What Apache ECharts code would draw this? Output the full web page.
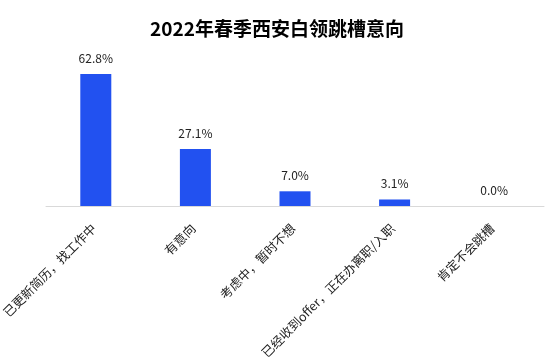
<!DOCTYPE html>
<html><head><meta charset="utf-8">
<script src="https://cdn.jsdelivr.net/npm/echarts@6/dist/echarts.min.js"></script>
<style>html,body{margin:0;padding:0;background:#fff}#c{width:554px;height:363px}</style>
</head><body><div id="c"></div>
<script>
const categories = ['已更新简历，找工作中','有意向','考虑中，暂时不想','已经收到offer，正在办离职/入职','肯定不会跳槽'];
const values = [62.8, 27.1, 7.0, 3.1, 0.0];
const chart = echarts.init(document.getElementById('c'));
chart.setOption({
  animation:false,
  title:{text:'2022年春季西安白领跳槽意向',left:'center',top:14,textStyle:{fontSize:19,fontWeight:'bold',color:'#000',fontFamily:'Noto Sans CJK SC'}},
  grid:{left:46,right:10,top:59,bottom:157,containLabel:false,outerBoundsMode:'none'},
  xAxis:{type:'category',data:categories,axisTick:{show:false},axisLine:{lineStyle:{color:'#d9d9d9'}},
    axisLabel:{rotate:45,interval:0,fontSize:12.5,color:'#222',margin:18,padding:[0,3,0,0],fontFamily:'Noto Sans CJK SC'}},
  yAxis:{type:'value',min:0,max:70,show:false},
  series:[{type:'bar',data:values,barWidth:31,itemStyle:{color:'#2251F0'},
    label:{show:true,position:'top',distance:10,fontSize:12,color:'#222',fontFamily:'Noto Sans CJK SC',formatter:p=>p.value.toFixed(1)+'%'}}]
});
</script></body></html>
